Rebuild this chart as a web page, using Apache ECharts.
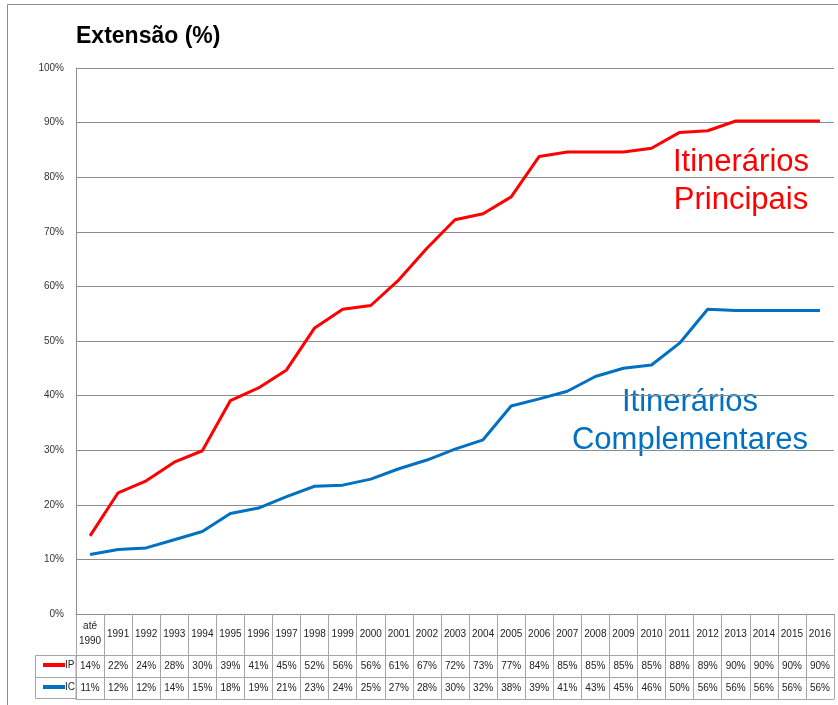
<!DOCTYPE html>
<html>
<head>
<meta charset="utf-8">
<script src="https://cdn.jsdelivr.net/npm/echarts@6/dist/echarts.min.js"></script>
<style>
  html, body { margin: 0; padding: 0; background: #fff; }
  #main { width: 838px; height: 705px; }
</style>
</head>
<body>
<div id="main"></div>
<script>
// categorias (anos)
var anos = ['até\n1990', '1991', '1992', '1993', '1994', '1995', '1996', '1997', '1998', '1999', '2000',
  '2001', '2002', '2003', '2004', '2005', '2006', '2007', '2008', '2009', '2010',
  '2011', '2012', '2013', '2014', '2015', '2016'];

// extensão (%)
var ipValores = [14.3, 22.2, 24.4, 27.8, 29.9, 39.1, 41.4, 44.7, 52.4, 55.8, 56.5, 61.2, 67.0, 72.2, 73.3,
  76.4, 83.8, 84.6, 84.6, 84.6, 85.3, 88.2, 88.5, 90.3, 90.3, 90.3, 90.3];
var icValores = [10.9, 11.8, 12.1, 13.6, 15.1, 18.4, 19.4, 21.5, 23.4, 23.6, 24.7, 26.6, 28.2, 30.2, 31.9,
  38.1, 39.4, 40.8, 43.5, 45.0, 45.6, 49.6, 55.8, 55.6, 55.6, 55.6, 55.6];

// valores da tabela (arredondados)
var ipTabela = [14, 22, 24, 28, 30, 39, 41, 45, 52, 56, 56, 61, 67, 72, 73, 77, 84, 85, 85, 85, 85, 88, 89, 90, 90, 90, 90];
var icTabela = [11, 12, 12, 14, 15, 18, 19, 21, 23, 24, 25, 27, 28, 30, 32, 38, 39, 41, 43, 45, 46, 50, 56, 56, 56, 56, 56];

var FONT = 'Liberation Sans, Arial, sans-serif';
var GRID_COR = '#8c8c8c';
var TABELA_COR = '#a6a6a6';

var chart = echarts.init(document.getElementById('main'));

function linhaTabela(valores, offset, mostrarTicks) {
  return {
    type: 'category',
    gridIndex: 0,
    position: 'bottom',
    offset: offset,
    data: valores.map(function (v) { return v + '%'; }),
    boundaryGap: true,
    axisLine: { show: true, lineStyle: { color: TABELA_COR, width: 1 } },
    axisTick: { show: mostrarTicks, length: 22, interval: 0, lineStyle: { color: TABELA_COR } },
    axisLabel: {
      show: mostrarTicks, interval: 0, margin: 6, fontSize: 10, fontFamily: FONT, color: '#222',
      hideOverlap: false
    },
    splitLine: { show: false }
  };
}

function legendaLinha(nome, topo) {
  return {
    data: [nome], left: 43, top: topo, padding: 0, icon: 'rect', itemWidth: 22, itemHeight: 4,
    selectedMode: false, textStyle: { fontSize: 10, fontFamily: FONT, color: '#222', padding: [0, 0, 0, -5] }
  };
}

var option = {
  animation: false,
  backgroundColor: '#fff',
  title: {
    text: 'Extensão (%)',
    left: 76,
    top: 25,
    padding: 0,
    textStyle: { fontSize: 23, fontWeight: 'bold', fontFamily: FONT, color: '#000' }
  },
  legend: [legendaLinha('IP', 660), legendaLinha('IC', 682)],
  grid: { left: 76, right: 4, top: 68, bottom: 91, outerBoundsMode: 'none' },
  xAxis: [
    {
      type: 'category',
      position: 'bottom',
      data: anos,
      boundaryGap: true,
      axisLine: { show: true, lineStyle: { color: GRID_COR, width: 1 } },
      axisTick: { show: true, length: 41, interval: 0, lineStyle: { color: TABELA_COR } },
      axisLabel: {
        interval: 0, margin: 20, verticalAlign: 'middle', lineHeight: 15,
        fontSize: 10, fontFamily: FONT, color: '#222', hideOverlap: false
      },
      splitLine: { show: false }
    },
    linhaTabela(ipTabela, 41, true),
    linhaTabela(icTabela, 63, true),
    linhaTabela(icTabela, 85, false)
  ],
  yAxis: {
    type: 'value',
    min: 0,
    max: 100,
    interval: 10,
    axisLine: { show: true, lineStyle: { color: GRID_COR, width: 1 } },
    axisTick: { show: false },
    axisLabel: { formatter: '{value}%', fontSize: 10, fontFamily: FONT, color: '#333', margin: 12 },
    splitLine: { show: true, lineStyle: { color: GRID_COR, width: 1 } }
  },
  series: [
    {
      name: 'IP',
      type: 'line',
      data: ipValores,
      xAxisIndex: 0,
      showSymbol: false,
      symbol: 'none',
      color: '#ff0000',
      lineStyle: { color: '#ff0000', width: 3 }
    },
    {
      name: 'IC',
      type: 'line',
      data: icValores,
      xAxisIndex: 0,
      showSymbol: false,
      symbol: 'none',
      color: '#0070c0',
      lineStyle: { color: '#0070c0', width: 3 }
    }
  ],
  graphic: [
    // moldura exterior
    { type: 'rect', shape: { x: 7.5, y: 4.5, width: 860, height: 720 }, style: { fill: 'none', stroke: GRID_COR, lineWidth: 1 }, silent: true },
    // célula da legenda da tabela
    { type: 'rect', shape: { x: 35.5, y: 655.5, width: 40.5, height: 43 }, style: { fill: 'none', stroke: TABELA_COR, lineWidth: 1 }, silent: true },
    { type: 'line', shape: { x1: 35.5, y1: 677.5, x2: 76, y2: 677.5 }, style: { stroke: TABELA_COR, lineWidth: 1 }, silent: true },
    // rótulos das séries
    {
      type: 'text', x: 741, y: 181, silent: true,
      style: { text: 'Itinerários\nPrincipais', align: 'center', verticalAlign: 'middle', fontSize: 31, fontFamily: FONT, lineHeight: 38, fill: '#ff0000' }
    },
    {
      type: 'text', x: 690, y: 421, silent: true,
      style: { text: 'Itinerários\nComplementares', align: 'center', verticalAlign: 'middle', fontSize: 31, fontFamily: FONT, lineHeight: 38, fill: '#0070c0' }
    }
  ]
};

chart.setOption(option);
</script>
</body>
</html>
